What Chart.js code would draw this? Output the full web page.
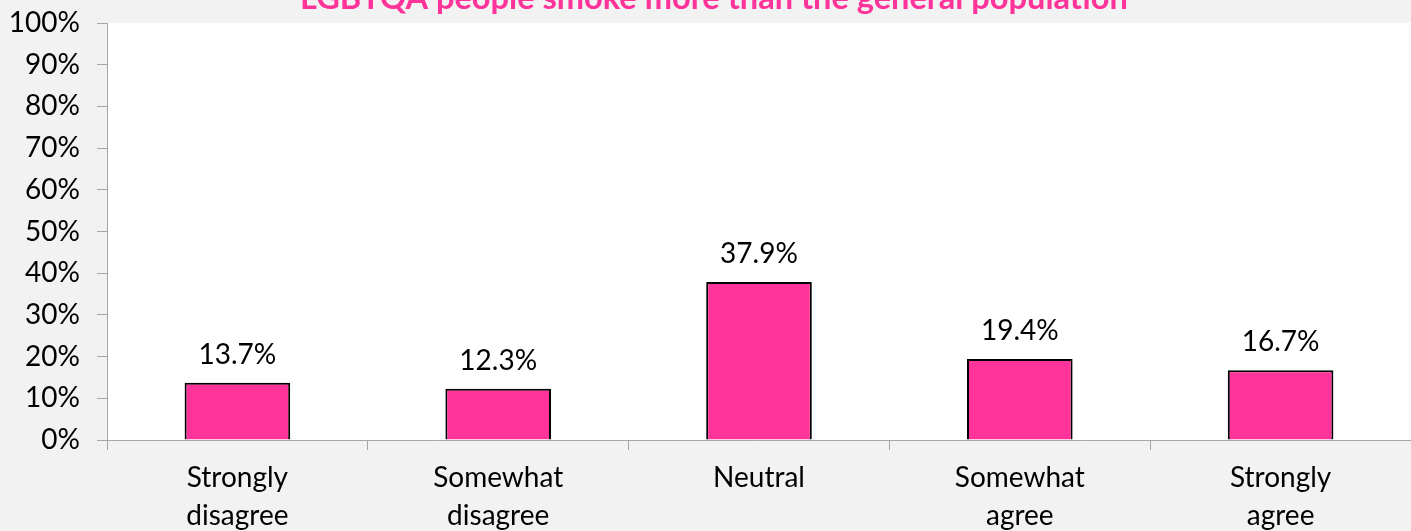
<!DOCTYPE html>
<html>
<head>
<meta charset="utf-8">
<script src="https://cdn.jsdelivr.net/npm/chart.js@4/dist/chart.umd.min.js"></script>
<style>
  html, body { margin: 0; padding: 0; background: #f2f2f2; }
  canvas { display: block; }
</style>
</head>
<body>
<canvas id="c" width="1411" height="531"></canvas>
<script>
const chartTitle = "LGBTQA people smoke more than the general population";
const categories = [["Strongly", "disagree"], ["Somewhat", "disagree"], ["Neutral"], ["Somewhat", "agree"], ["Strongly", "agree"]];
const values = [13.7, 12.3, 37.9, 19.4, 16.7];
const yTicks = [0, 10, 20, 30, 40, 50, 60, 70, 80, 90, 100];

const FONT = "Lato, 'DejaVu Sans', sans-serif";

const plotBg = {
  id: 'plotBg',
  beforeDraw(chart) {
    const { ctx, chartArea: a } = chart;
    ctx.save();
    ctx.fillStyle = '#ffffff';
    ctx.fillRect(a.left, a.top, a.right - a.left, a.bottom - a.top);
    ctx.restore();
  }
};

const labelsAndTitle = {
  id: 'labelsAndTitle',
  afterDraw(chart) {
    const ctx = chart.ctx;
    ctx.save();
    // title (clipped at top as in reference)
    ctx.font = "bold 28px " + FONT;
    const w = ctx.measureText(chartTitle).width;
    const size = Math.round(28 * 828 / w * 10) / 10;
    ctx.font = "bold " + size + "px " + FONT;
    ctx.fillStyle = '#ff3399';
    ctx.textAlign = 'center';
    ctx.textBaseline = 'alphabetic';
    ctx.fillText(chartTitle, 714, 9);
    // data labels
    ctx.font = "28px " + FONT;
    ctx.fillStyle = '#000000';
    ctx.textBaseline = 'middle';
    const meta = chart.getDatasetMeta(0);
    meta.data.forEach((bar, i) => {
      ctx.fillText(values[i].toFixed(1) + '%', bar.x, bar.y - 28);
    });
    ctx.restore();
  }
};

new Chart(document.getElementById('c'), {
  type: 'bar',
  data: {
    labels: categories,
    datasets: [{
      data: values,
      backgroundColor: '#ff3399',
      borderColor: '#000000',
      borderWidth: 2,
      barPercentage: 0.405,
      categoryPercentage: 1.0
    }]
  },
  options: {
    responsive: false,
    animation: false,
    layout: { padding: { top: 23, right: 0, left: 0, bottom: 0 } },
    plugins: {
      legend: { display: false },
      title: { display: false },
      tooltip: { enabled: false }
    },
    scales: {
      x: {
        grid: { display: true, drawOnChartArea: false, drawTicks: true, tickLength: 10, color: '#a6a6a6', offset: true },
        border: { display: true, color: '#a6a6a6', width: 1 },
        ticks: { color: '#000000', font: { family: FONT, size: 28, lineHeight: 1.357 }, padding: 9, maxRotation: 0, autoSkip: false },
        afterFit(scale) { scale.height = 91; scale.paddingLeft = 0; scale.paddingRight = 0; }
      },
      y: {
        min: 0, max: 100,
        afterBuildTicks(scale) { scale.ticks = yTicks.map(v => ({ value: v })); },
        grid: { display: true, drawOnChartArea: false, drawTicks: true, tickLength: 10, color: '#a6a6a6' },
        border: { display: true, color: '#a6a6a6', width: 1 },
        ticks: { color: '#000000', font: { family: FONT, size: 28 }, padding: 17, callback: v => v + '%' },
        afterFit(scale) { scale.width = 107; scale.paddingTop = 0; scale.paddingBottom = 0; }
      }
    }
  },
  plugins: [plotBg, labelsAndTitle]
});
</script>
</body>
</html>
